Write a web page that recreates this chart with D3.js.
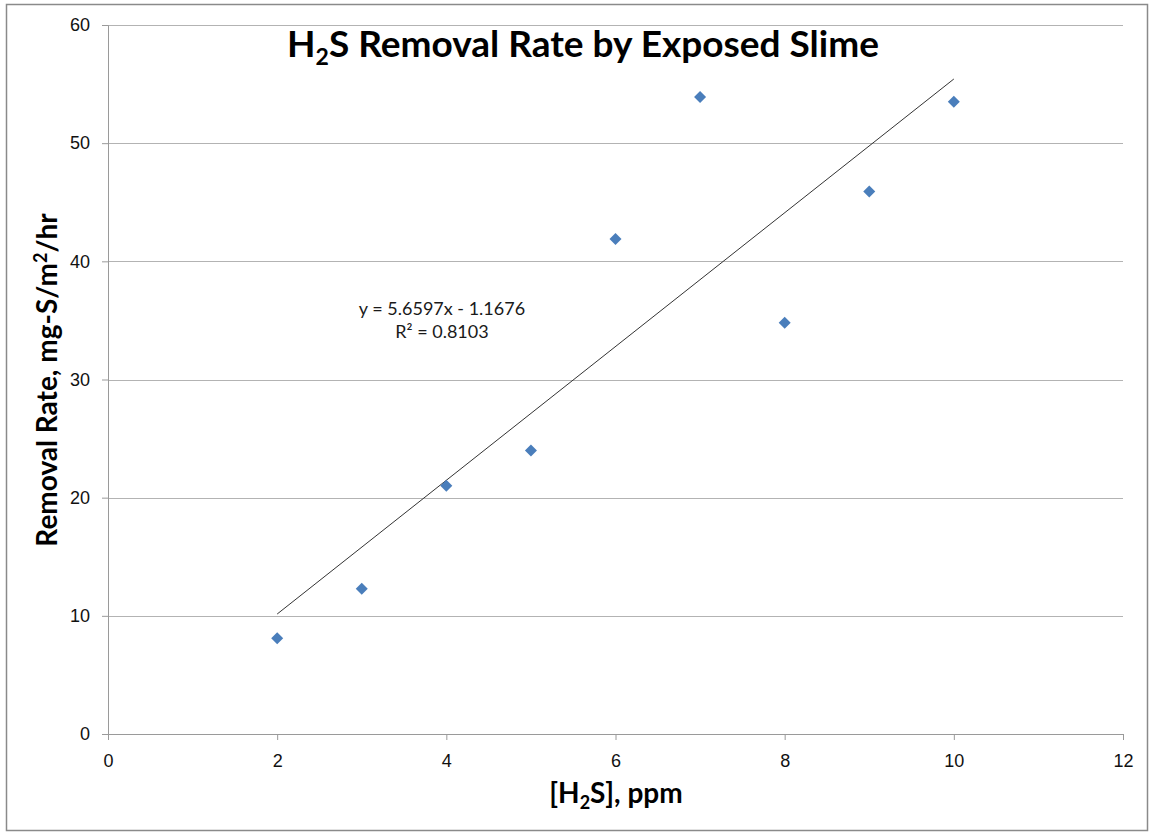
<!DOCTYPE html>
<html>
<head>
<meta charset="utf-8">
<title>H2S Removal Rate by Exposed Slime</title>
<script src="https://d3js.org/d3.v7.min.js"></script>
<style>
    body { margin: 0; background: #fff; }
    svg { font-family: Lato, "Open Sans", sans-serif; }
    .tick text { font-size: 18px; fill: #111; }
</style>
</head>
<body>
<script>
// data
var concentration = [2, 3, 4, 5, 6, 7, 8, 9, 10];          // [H2S], ppm
var removalRate = [8.1, 12.3, 21.0, 24.0, 41.9, 53.9, 34.8, 45.9, 53.5];
var xTicks = [0, 2, 4, 6, 8, 10, 12];
var yTicks = [0, 10, 20, 30, 40, 50, 60];
var trendSlope = 5.6597;       // trendline printed on the chart
var trendIntercept = -1.1676;
var trendRSquared = 0.8103;

var width = 1150, height = 833;
var margin = { top: 25, right: 27, bottom: 99, left: 108 };
var innerW = width - margin.left - margin.right;
var innerH = height - margin.top - margin.bottom;

var svg = d3.select("body").append("svg")
    .attr("width", width)
    .attr("height", height);

// outer chart frame
svg.append("rect")
    .attr("x", 6.5).attr("y", 4.5)
    .attr("width", 1141).attr("height", 826)
    .attr("fill", "#fff")
    .attr("stroke", "#8a8a8a")
    .attr("stroke-width", 1.5);

var g = svg.append("g")
    .attr("transform", "translate(" + margin.left + "," + margin.top + ")");

var x = d3.scaleLinear().domain([0, 12]).range([0, innerW]);
var y = d3.scaleLinear().domain([0, 60]).range([innerH, 0]);

// horizontal gridlines
g.append("g")
    .selectAll("line")
    .data(yTicks.filter(function (d) { return d > 0; }))
    .enter().append("line")
    .attr("x1", 0).attr("x2", innerW)
    .attr("y1", function (d) { return Math.round(y(d)) + 0.5; })
    .attr("y2", function (d) { return Math.round(y(d)) + 0.5; })
    .attr("stroke", "#b3b3b3");

// y axis
var yAxis = g.append("g")
    .call(d3.axisLeft(y).tickValues(yTicks).tickSize(6).tickPadding(12));
yAxis.select(".domain").attr("stroke", "#9a9a9a");
yAxis.selectAll(".tick line").attr("stroke", "#9a9a9a");

// x axis
var xAxis = g.append("g")
    .attr("transform", "translate(0," + innerH + ")")
    .call(d3.axisBottom(x).tickValues(xTicks).tickSize(6).tickPadding(14));
xAxis.select(".domain").attr("stroke", "#9a9a9a");
xAxis.selectAll(".tick line").attr("stroke", "#9a9a9a");

// linear trendline
var trendX = d3.extent(concentration);
g.append("line")
    .attr("x1", x(trendX[0]))
    .attr("y1", y(trendSlope * trendX[0] + trendIntercept))
    .attr("x2", x(trendX[1]))
    .attr("y2", y(trendSlope * trendX[1] + trendIntercept))
    .attr("stroke", "#333")
    .attr("stroke-width", 1);

// diamond markers
var diamond = d3.symbol().type(d3.symbolSquare).size(72);
g.selectAll(".pt")
    .data(concentration)
    .enter().append("path")
    .attr("class", "pt")
    .attr("d", diamond)
    .attr("transform", function (d, i) {
        return "translate(" + x(d) + "," + y(removalRate[i]) + ") rotate(45)";
    })
    .attr("fill", "#4a7ebb");

// equation label
var eq = svg.append("text")
    .attr("x", 442).attr("y", 315)
    .attr("text-anchor", "middle")
    .attr("font-size", 18)
    .attr("fill", "#1a1a1a");
eq.append("tspan").attr("x", 442).text("y = " + trendSlope + "x - " + Math.abs(trendIntercept));
eq.append("tspan").attr("x", 442).attr("dy", 23).text("R² = " + trendRSquared);

// title
var title = svg.append("text")
    .attr("x", 583).attr("y", 57)
    .attr("text-anchor", "middle")
    .attr("font-size", 37)
    .attr("font-weight", "bold")
    .attr("fill", "#000");
title.append("tspan").text("H");
title.append("tspan").attr("font-size", 23).attr("dy", 8).text("2");
title.append("tspan").attr("dy", -8).text("S Removal Rate by Exposed Slime");

// x axis title
var xt = svg.append("text")
    .attr("x", 616).attr("y", 803)
    .attr("text-anchor", "middle")
    .attr("font-size", 28)
    .attr("font-weight", "bold");
xt.append("tspan").text("[H");
xt.append("tspan").attr("font-size", 18).attr("dy", 6).text("2");
xt.append("tspan").attr("dy", -6).text("S], ppm");

// y axis title
var yt = svg.append("text")
    .attr("transform", "translate(57,380) rotate(-90)")
    .attr("text-anchor", "middle")
    .attr("font-size", 28)
    .attr("font-weight", "bold");
yt.append("tspan").text("Removal Rate, mg-S/m");
yt.append("tspan").attr("font-size", 18).attr("dy", -10).text("2");
yt.append("tspan").attr("dy", 10).text("/hr");
</script>
</body>
</html>
